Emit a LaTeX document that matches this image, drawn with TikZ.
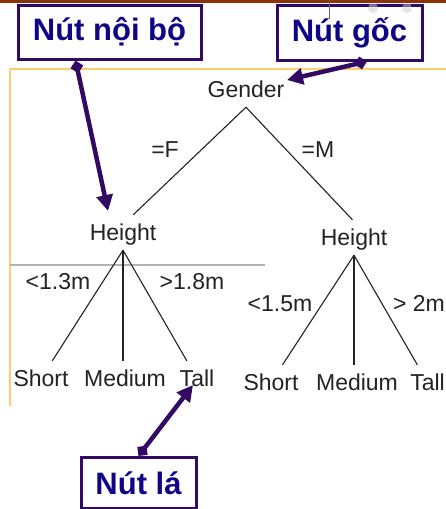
\documentclass[tikz,border=0pt]{standalone}
\usepackage{fontspec}
\setmainfont{Liberation Sans}
\usetikzlibrary{arrows.meta,calc}

\definecolor{treegray}{RGB}{35,35,35}
\definecolor{calloutline}{RGB}{50,10,100}
\definecolor{callouttext}{RGB}{15,5,135}
\definecolor{framebrown}{RGB}{140,50,10}
\definecolor{frameorange}{RGB}{255,205,110}

\begin{document}
\begin{tikzpicture}[x=1pt,y=-1pt,
  attr/.style={font=\fontsize{23}{23}\selectfont, text=treegray, anchor=base,
    text height=20pt, text depth=5pt, inner xsep=2pt, inner ysep=5pt},
  cond/.style={font=\fontsize{23}{23}\selectfont, text=treegray, anchor=base, inner sep=0pt},
  branch/.style={draw=treegray, line width=1.1pt},
  callout/.style={draw=calloutline, line width=3pt, fill=white, text=callouttext,
    font=\fontsize{31}{31}\selectfont\bfseries, inner sep=0pt},
  pointer/.style={draw=calloutline, line width=4.5pt,
    {Diamond[length=13pt,width=13pt]}-{Triangle[length=16pt,width=16pt]}}]
\path[use as bounding box, clip] (0,0) rectangle (446,509);
\fill[white] (0,0) rectangle (446,509);

% Slide frame
\draw[framebrown, line width=3pt] (0,1) -- (446,1);
\draw[frameorange, line width=2.5pt] (10,406) -- (10,69) -- (446,69);
\draw[gray!60, line width=2pt] (10,265) -- (265,265);

% Tree
\node[attr] (gender) at (246,97) {Gender};
\node[attr] (hl) at (123,240) {Height};
\node[attr] (hr) at (354,245) {Height};
\node[attr] (ls) at (41,386) {Short};
\node[attr] (lm) at (125,386) {Medium};
\node[attr] (lt) at (197,386) {Tall};
\node[attr] (rs) at (271,390) {Short};
\node[attr] (rm) at (357,390) {Medium};
\node[attr, anchor=base east] (rt) at (447,390) {Tall};

\draw[branch] (gender.south) -- (hl.60);
\draw[branch] (gender.south) -- (hr.95);
\draw[branch] (hl.south) -- (ls);
\draw[branch] (hl.south) -- (lm.north -| hl.south);
\draw[branch] (hl.south) -- (lt);
\draw[branch] (hr.south) -- (rs);
\draw[branch] (hr.south) -- (rm.north -| hr.south);
\draw[branch] (hr.south) -- (rt);

% Branch conditions
\node[cond] (cf) at (165,157) {=F};
\node[cond] (cm) at (318,157) {=M};
\node[cond] (c13) at (58,289) {<1.3m};
\node[cond] (c18) at (192,289) {>1.8m};
\node[cond] (c15) at (280,311) {<1.5m};
\node[cond, anchor=base east] (c2) at (445,311) {> 2m};

% Callouts
\node[callout, minimum width=183pt, minimum height=54pt] (inb) at (109.5,32) {Nút nội bộ};
\node[callout, minimum width=145pt, minimum height=55pt] (ng) at (349.5,32.5) {Nút gốc};
\node[callout, minimum width=115pt, minimum height=51pt] (nl) at (138.5,483) {Nút lá};
\fill[gray!40, opacity=0.5] (373,8) circle (5pt) (407,8) circle (5pt);
\draw[gray!80!black, line width=1pt] (329,0) -- (329,19);

\coordinate (tipH) at (108,211);
\coordinate (tipG) at (287,80);
\coordinate (tipT) at (193,385);
\draw[pointer] (inb.-140) -- (tipH);
\draw[pointer] (ng.-59) -- (tipG);
\draw[pointer] (nl.north) -- (tipT);
\end{tikzpicture}
\end{document}
